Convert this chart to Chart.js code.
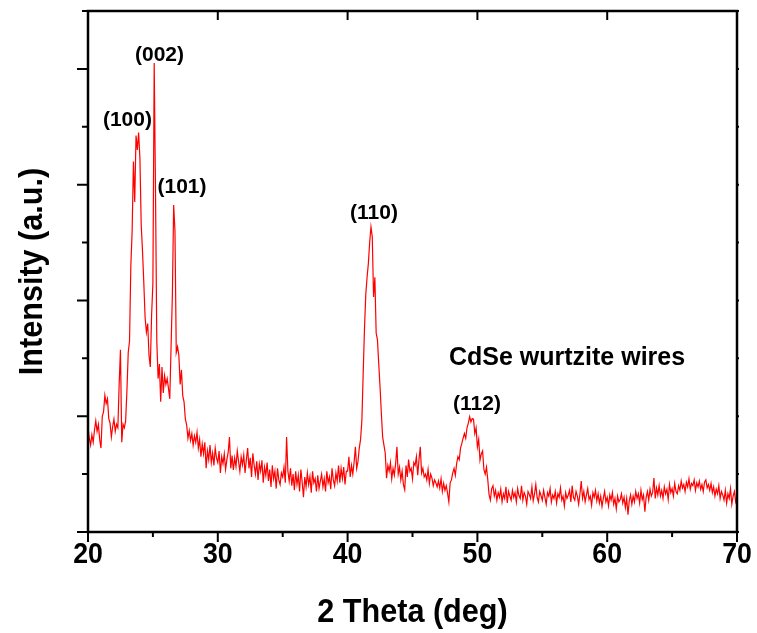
<!DOCTYPE html>
<html>
<head>
<meta charset="utf-8">
<script src="https://cdn.jsdelivr.net/npm/chart.js@4"></script>
<style>
  html, body { margin: 0; padding: 0; background: #fff; }
  #wrap { width: 757px; height: 633px; position: relative; }
</style>
</head>
<body>
<div id="wrap"><canvas id="xrd"></canvas></div>
<script>
// 2 theta scan, 20 to 70 deg in 0.1 deg steps
const scanStart = 20;
const scanStep = 0.1;

// intensity (a.u.), one row per degree
const intensity = [
  1.80, 1.62, 1.50, 1.68, 1.55, 1.76, 1.92, 1.74, 1.86, 1.60,
  1.45, 2.00, 2.08, 2.36, 2.22, 2.30, 1.96, 1.88, 1.64, 1.82,
  1.95, 1.74, 1.86, 1.80, 2.55, 3.15, 1.55, 1.86, 1.80, 1.92,
  2.45, 3.10, 3.30, 4.60, 5.20, 6.40, 5.70, 6.85, 6.60, 6.90,
  6.45, 5.30, 4.85, 4.30, 3.70, 3.45, 3.60, 3.05, 2.85, 3.75,
  4.30, 8.10, 5.90, 3.30, 2.65, 2.90, 2.25, 2.85, 2.40, 2.70,
  2.55, 2.65, 2.48, 2.30, 3.20, 4.10, 5.65, 5.20, 3.10, 3.20,
  3.05, 2.55, 2.80, 2.35, 2.25, 1.95, 1.85, 1.62, 1.75, 1.58,
  1.70, 1.50, 1.66, 1.55, 1.72, 1.45, 1.60, 1.30, 1.52, 1.35,
  1.55, 1.10, 1.40, 1.25, 1.50, 1.20, 1.36, 1.15, 1.45, 1.28,
  1.20, 1.40, 1.02, 1.30, 1.18, 1.35, 1.08, 1.25, 1.38, 1.64,
  1.10, 1.32, 1.07, 1.28, 1.13, 1.40, 1.22, 1.05, 1.30, 1.16,
  1.33, 1.02, 1.25, 1.45, 1.10, 1.28, 0.95, 1.36, 1.15, 1.00,
  1.22, 0.90, 1.18, 1.05, 1.24, 0.85, 1.12, 0.98, 1.20, 0.88,
  1.08, 0.78, 1.15, 0.92, 1.05, 0.75, 1.10, 0.90, 0.82, 1.02,
  0.95, 1.12, 0.85, 1.64, 1.05, 0.88, 1.10, 0.80, 1.00, 0.72,
  1.05, 0.82, 0.98, 0.70, 1.08, 0.86, 0.60, 0.95, 0.78, 1.02,
  0.82, 0.96, 0.68, 1.05, 0.85, 0.92, 0.70, 0.98, 0.75, 0.88,
  1.00, 0.78, 0.92, 0.70, 1.05, 0.85, 0.95, 0.74, 1.10, 0.90,
  0.80, 1.02, 0.88, 1.15, 0.85, 1.10, 0.92, 1.12, 0.82, 1.05,
  1.05, 1.30, 0.95, 1.15, 1.00, 1.20, 1.47, 1.10, 1.22, 1.45,
  1.60, 1.93, 2.74, 3.50, 4.10, 4.40, 4.64, 5.00, 5.27, 5.10,
  4.06, 4.40, 3.44, 3.32, 2.90, 2.50, 2.05, 1.64, 1.50, 1.36,
  0.93, 1.15, 1.05, 1.20, 0.92, 1.10, 0.98, 1.18, 1.47, 1.00,
  1.12, 0.90, 1.05, 0.82, 0.73, 1.15, 0.95, 1.25, 1.05, 1.10,
  0.92, 1.20, 1.15, 1.30, 0.98, 1.25, 1.47, 1.02, 1.10, 0.95,
  1.00, 0.90, 1.08, 0.84, 1.00, 0.93, 0.80, 0.90, 0.85, 0.78,
  0.88, 0.76, 0.92, 0.70, 0.84, 0.72, 0.80, 0.67, 0.52, 0.85,
  0.90, 1.02, 1.10, 0.98, 1.18, 1.30, 1.25, 1.45, 1.53, 1.62,
  1.70, 1.62, 1.80, 1.88, 1.99, 1.90, 1.96, 1.95, 1.70, 1.80,
  1.47, 1.60, 1.24, 1.35, 1.40, 1.08, 1.00, 1.12, 0.90, 0.64,
  0.55, 0.75, 0.80, 0.62, 0.72, 0.55, 0.68, 0.60, 0.74, 0.52,
  0.66, 0.58, 0.78, 0.50, 0.70, 0.62, 0.55, 0.72, 0.60, 0.68,
  0.52, 0.75, 0.63, 0.58, 0.80, 0.55, 0.68, 0.62, 0.48, 0.70,
  0.65, 0.58, 0.78, 0.54, 0.66, 0.82, 0.60, 0.52, 0.70, 0.63,
  0.55, 0.72, 0.60, 0.48, 0.68, 0.62, 0.75, 0.52, 0.64, 0.58,
  0.70, 0.50, 0.66, 0.60, 0.76, 0.55, 0.62, 0.45, 0.68, 0.58,
  0.64, 0.72, 0.52, 0.80, 0.60, 0.55, 0.70, 0.62, 0.48, 0.66,
  0.88, 0.58, 0.70, 0.52, 0.64, 0.75, 0.56, 0.62, 0.46, 0.68,
  0.60, 0.72, 0.54, 0.66, 0.50, 0.62, 0.44, 0.58, 0.70, 0.52,
  0.60, 0.45, 0.64, 0.55, 0.68, 0.48, 0.58, 0.40, 0.62, 0.52,
  0.56, 0.66, 0.50, 0.60, 0.42, 0.58, 0.30, 0.54, 0.64, 0.48,
  0.62, 0.52, 0.70, 0.58, 0.66, 0.50, 0.72, 0.56, 0.64, 0.35,
  0.60, 0.70, 0.55, 0.74, 0.62, 0.68, 0.93, 0.58, 0.76, 0.64,
  0.80, 0.62, 0.72, 0.58, 0.78, 0.66, 0.74, 0.56, 0.82, 0.68,
  0.75, 0.62, 0.84, 0.70, 0.66, 0.80, 0.72, 0.88, 0.76, 0.82,
  0.70, 0.86, 0.78, 0.92, 0.74, 0.84, 0.80, 0.90, 0.72, 0.85,
  0.78, 0.88, 0.74, 0.82, 0.70, 0.86, 0.90, 0.76, 0.82, 0.72,
  0.84, 0.68, 0.78, 0.62, 0.74, 0.66, 0.80, 0.58, 0.70, 0.64,
  0.55, 0.72, 0.50, 0.66, 0.58, 0.75, 0.48, 0.62, 0.70, 0.52,
  0.58
];

// axis ticks
const xTicks = [20, 30, 40, 50, 60, 70];
const xMinorTicks = [25, 35, 45, 55, 65];
const yMajorTicks = [0, 2, 4, 6, 8];
const yMinorTicks = [1, 3, 5, 7, 9];

// reflection labels: text, 2theta of label centre, height of baseline
const peakText = ['(100)', '(002)', '(101)', '(110)', '(112)'];
const peakAt = [23.04, 25.51, 27.24, 42.03, 49.97];
const peakLift = [7.01, 8.14, 5.85, 5.41, 2.11];

const FONT = '"Liberation Sans", Arial, sans-serif';

const points = intensity.map((v, i) => ({ x: +(scanStart + i * scanStep).toFixed(1), y: v }));

// bold text squeezed a little along its width
function narrowText(ctx, s, px, py, size, squeeze, angle) {
  ctx.save();
  ctx.translate(px, py);
  if (angle) ctx.rotate(angle);
  ctx.scale(squeeze, 1);
  ctx.font = 'bold ' + size + 'px ' + FONT;
  ctx.fillText(s, 0, 0);
  ctx.restore();
}

// frame, ticks, labels and notes, drawn on top of the scales
const framePlugin = {
  id: 'frame',
  afterDatasetsDraw(chart) {
    const { ctx, chartArea: a, scales: { x, y } } = chart;
    ctx.save();
    ctx.strokeStyle = '#000';
    ctx.lineWidth = 2.5;
    ctx.strokeRect(a.left, a.top, a.right - a.left, a.bottom - a.top);

    ctx.lineWidth = 2;
    ctx.beginPath();
    xTicks.forEach(t => {
      const px = x.getPixelForValue(t);
      ctx.moveTo(px, a.bottom); ctx.lineTo(px, a.bottom + 10);
      ctx.moveTo(px, a.top); ctx.lineTo(px, a.top + 9);
    });
    xMinorTicks.forEach(t => {
      const px = x.getPixelForValue(t);
      ctx.moveTo(px, a.bottom); ctx.lineTo(px, a.bottom + 5);
    });
    yMajorTicks.forEach(t => {
      const py = y.getPixelForValue(t);
      ctx.moveTo(a.left, py); ctx.lineTo(a.left - 11, py);
      ctx.moveTo(a.right, py); ctx.lineTo(a.right + 2, py);
    });
    yMinorTicks.forEach(t => {
      const py = y.getPixelForValue(t);
      ctx.moveTo(a.left, py); ctx.lineTo(a.left - 6, py);
      ctx.moveTo(a.right, py); ctx.lineTo(a.right + 2, py);
    });
    ctx.stroke();

    ctx.fillStyle = '#000';
    ctx.textAlign = 'center';
    ctx.textBaseline = 'alphabetic';
    xTicks.forEach(t => narrowText(ctx, String(t), x.getPixelForValue(t), a.bottom + 31, 29, 0.92));

    narrowText(ctx, '2 Theta (deg)', (a.left + a.right) / 2, a.bottom + 90, 34, 0.9);
    narrowText(ctx, 'Intensity (a.u.)', 42, (a.top + a.bottom) / 2, 34, 0.9, -Math.PI / 2);

    ctx.font = 'bold 21px ' + FONT;
    peakText.forEach((s, i) => ctx.fillText(s, x.getPixelForValue(peakAt[i]), y.getPixelForValue(peakLift[i])));

    ctx.textAlign = 'left';
    ctx.font = 'bold 25px ' + FONT;
    ctx.fillText('CdSe wurtzite wires', x.getPixelForValue(47.81), y.getPixelForValue(2.88));
    ctx.restore();
  }
};

new Chart(document.getElementById('xrd'), {
  type: 'line',
  data: {
    datasets: [{
      data: points,
      borderColor: '#ff0000',
      borderWidth: 1.2,
      pointRadius: 0,
      tension: 0,
      fill: false
    }]
  },
  options: {
    responsive: true,
    maintainAspectRatio: false,
    animation: false,
    layout: { padding: { left: 88, right: 20, top: 11, bottom: 101 } },
    plugins: { legend: { display: false }, tooltip: { enabled: false } },
    scales: {
      x: { type: 'linear', min: 20, max: 70, display: false },
      y: { type: 'linear', min: 0, max: 9, display: false }
    }
  },
  plugins: [framePlugin]
});
</script>
</body>
</html>
